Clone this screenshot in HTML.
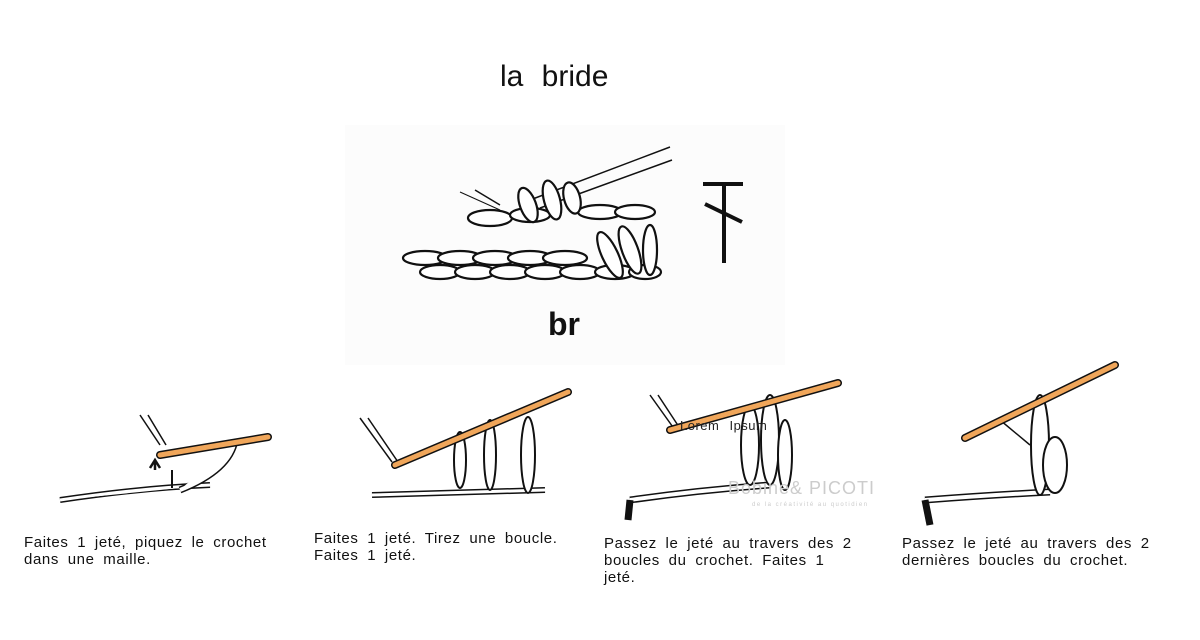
<!DOCTYPE html>
<html><head><meta charset="utf-8"><style>
body{margin:0;width:1200px;height:640px;background:#fff;overflow:hidden;position:relative;font-family:"Liberation Sans",sans-serif}
.t{position:absolute;font-size:15px;line-height:17px;color:#111;letter-spacing:0.6px;word-spacing:4px;white-space:nowrap}
</style></head><body>
<div style="position:absolute;left:500px;top:60px;font-size:30px;letter-spacing:0px;word-spacing:10px;color:#111">la bride</div>
<div style="position:absolute;left:345px;top:125px;width:440px;height:240px;background:#fcfcfc"></div>
<svg width="1200" height="640" style="position:absolute;left:0;top:0" fill="none" stroke="#111">
<g stroke-width="2.2" fill="#fff">
<line x1="460" y1="192" x2="500" y2="210" stroke-width="1"/>
<line x1="475" y1="190" x2="500" y2="205" stroke-width="1.5"/>
<line x1="530" y1="200" x2="670" y2="147" stroke-width="1.5"/>
<line x1="540" y1="208" x2="672" y2="160" stroke-width="1.5"/>
<ellipse cx="425" cy="258" rx="22" ry="7"/><ellipse cx="460" cy="258" rx="22" ry="7"/><ellipse cx="495" cy="258" rx="22" ry="7"/><ellipse cx="530" cy="258" rx="22" ry="7"/><ellipse cx="565" cy="258" rx="22" ry="7"/>
<ellipse cx="440" cy="272" rx="20" ry="7"/><ellipse cx="475" cy="272" rx="20" ry="7"/><ellipse cx="510" cy="272" rx="20" ry="7"/><ellipse cx="545" cy="272" rx="20" ry="7"/><ellipse cx="580" cy="272" rx="20" ry="7"/><ellipse cx="615" cy="272" rx="20" ry="7"/><ellipse cx="645" cy="272" rx="16" ry="7"/>
<ellipse cx="490" cy="218" rx="22" ry="8"/><ellipse cx="530" cy="215" rx="20" ry="7"/>
<ellipse cx="610" cy="255" rx="8" ry="25" transform="rotate(-25 610 255)"/>
<ellipse cx="630" cy="250" rx="8" ry="25" transform="rotate(-20 630 250)"/>
<ellipse cx="650" cy="250" rx="7" ry="25"/>
<ellipse cx="600" cy="212" rx="22" ry="7"/><ellipse cx="635" cy="212" rx="20" ry="7"/>
<ellipse cx="528" cy="205" rx="8" ry="18" transform="rotate(-20 528 205)"/>
<ellipse cx="552" cy="200" rx="8" ry="20" transform="rotate(-15 552 200)"/>
<ellipse cx="572" cy="198" rx="8" ry="16" transform="rotate(-15 572 198)"/>
</g>
<g stroke-width="4"><line x1="703" y1="184" x2="743" y2="184"/><line x1="724" y1="184" x2="724" y2="263"/><line x1="705" y1="204" x2="742" y2="222"/></g>
<g stroke-width="2" fill="#fff">
<line x1="140" y1="415" x2="160" y2="445" stroke-width="1.5"/><line x1="148" y1="415" x2="166" y2="445" stroke-width="1.5"/>
<path d="M60 500 Q140 488 210 485" stroke-width="6" stroke="#111"/><path d="M60 500 Q140 488 210 485" stroke-width="3" stroke="#fff"/>
<path d="M180 490 Q230 470 235 440" stroke-width="7" stroke="#111"/><path d="M180 490 Q230 470 235 440" stroke-width="4" stroke="#fff"/>
<path d="M155 470 L155 462 M150 468 L155 460 L160 468" stroke-width="2.5"/>
<path d="M172 488 L172 470" stroke-width="2"/>
<line x1="360" y1="418" x2="392" y2="462" stroke-width="1.5"/><line x1="368" y1="418" x2="398" y2="462" stroke-width="1.5"/>
<path d="M372 495 L545 490" stroke-width="6"/><path d="M372 495 L545 490" stroke-width="3" stroke="#fff"/>
<ellipse cx="460" cy="460" rx="6" ry="28"/><ellipse cx="490" cy="455" rx="6" ry="35"/><ellipse cx="528" cy="455" rx="7" ry="38"/>
<line x1="650" y1="395" x2="675" y2="430" stroke-width="1.5"/><line x1="658" y1="395" x2="681" y2="430" stroke-width="1.5"/>
<path d="M630 500 Q700 490 770 485" stroke-width="7"/><path d="M630 500 Q700 490 770 485" stroke-width="4" stroke="#fff"/>
<path d="M630 500 L628 520" stroke-width="7"/>
<ellipse cx="750" cy="445" rx="9" ry="40"/><ellipse cx="770" cy="440" rx="9" ry="45"/><ellipse cx="785" cy="455" rx="7" ry="35"/>
<line x1="1000" y1="420" x2="1030" y2="445" stroke-width="1.5"/>
<path d="M925 500 Q990 495 1050 492" stroke-width="7"/><path d="M925 500 Q990 495 1050 492" stroke-width="4" stroke="#fff"/>
<path d="M925 500 L930 525" stroke-width="7"/>
<ellipse cx="1040" cy="445" rx="9" ry="50"/><ellipse cx="1055" cy="465" rx="12" ry="28"/>
</g>
<g stroke-linecap="round">
<line x1="160" y1="455" x2="268" y2="437" stroke="#111" stroke-width="8"/><line x1="160" y1="455" x2="268" y2="437" stroke="#f0a65a" stroke-width="5"/>
<line x1="395" y1="465" x2="568" y2="392" stroke="#111" stroke-width="8"/><line x1="395" y1="465" x2="568" y2="392" stroke="#f0a65a" stroke-width="5"/>
<line x1="670" y1="430" x2="838" y2="383" stroke="#111" stroke-width="8"/><line x1="670" y1="430" x2="838" y2="383" stroke="#f0a65a" stroke-width="5"/>
<line x1="965" y1="438" x2="1115" y2="365" stroke="#111" stroke-width="8"/><line x1="965" y1="438" x2="1115" y2="365" stroke="#f0a65a" stroke-width="5"/>
</g>
</svg>
<div style="position:absolute;left:548px;top:306px;font-size:32px;font-weight:bold;color:#111">br</div>
<div style="position:absolute;left:680px;top:418px;font-size:13px;color:#222;letter-spacing:0.5px;word-spacing:6px">Lorem Ipsum</div>
<div style="position:absolute;left:728px;top:478px;font-size:18px;color:#ccc;letter-spacing:1px">Bobine&amp; PICOTI</div>
<div style="position:absolute;left:752px;top:502px;font-size:6px;color:#ccc;letter-spacing:1.5px">de la créativité au quotidien</div>
<div class="t" style="left:24px;top:534px">Faites 1 jeté, piquez le crochet<br>dans une maille.</div>
<div class="t" style="left:314px;top:530px">Faites 1 jeté. Tirez une boucle.<br>Faites 1 jeté.</div>
<div class="t" style="left:604px;top:535px">Passez le jeté au travers des 2<br>boucles du crochet. Faites 1<br>jeté.</div>
<div class="t" style="left:902px;top:535px">Passez le jeté au travers des 2<br>dernières boucles du crochet.</div>
</body></html>
